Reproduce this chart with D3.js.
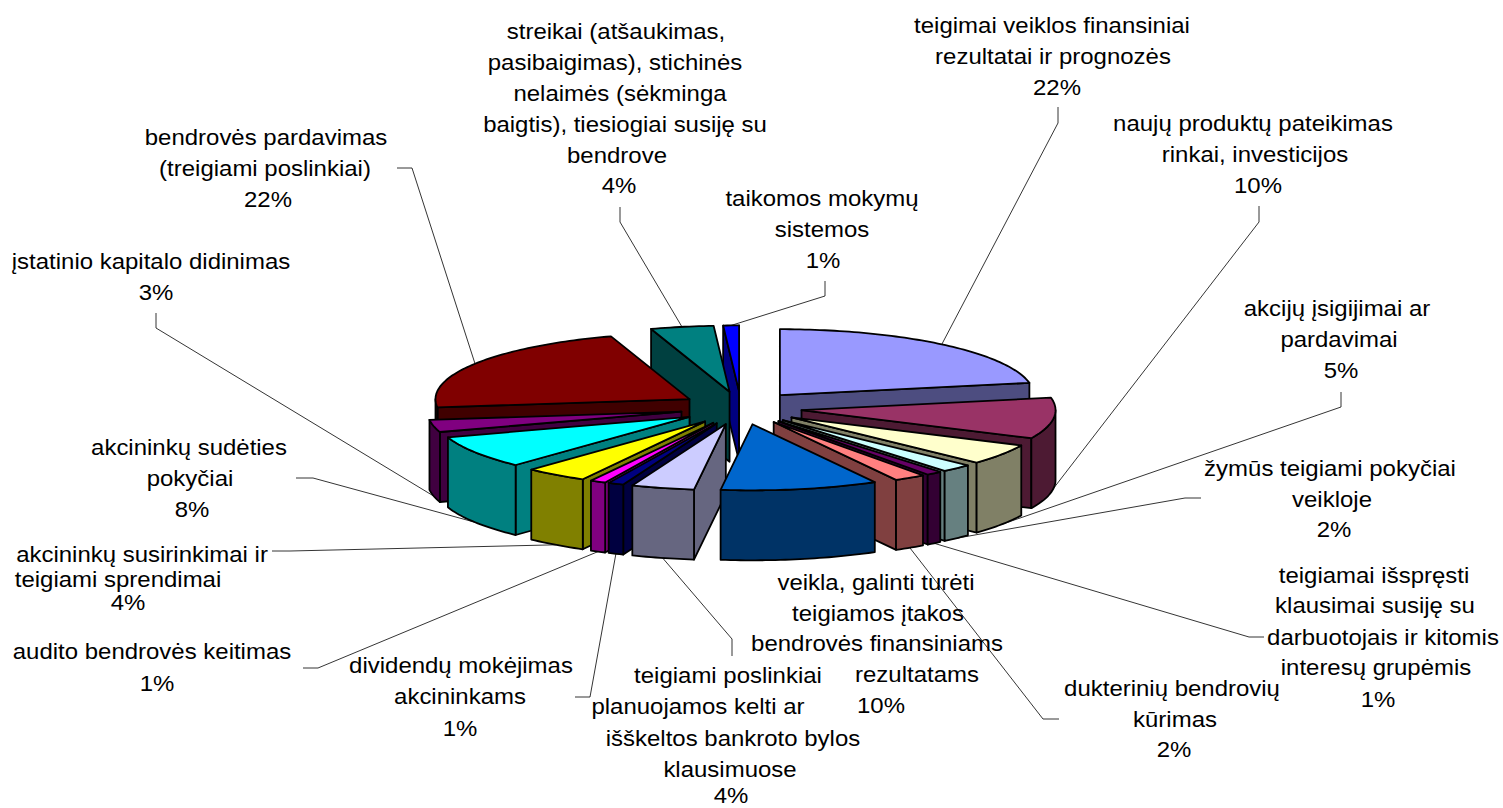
<!DOCTYPE html>
<html lang="lt">
<head>
<meta charset="utf-8">
<title>Teigiami įvykiai</title>
<script src="https://cdnjs.cloudflare.com/ajax/libs/d3/7.8.5/d3.min.js"></script>
<style>
  html, body { margin: 0; padding: 0; background: #fff; }
  svg { display: block; }
  text { font-family: "Liberation Sans", Arial, sans-serif; font-size: 22px; fill: #000; }
</style>
</head>
<body>
<svg id="chart" width="1503" height="808"></svg>
<script>
// Share of each event type, clockwise from twelve o'clock.
const categories = [
  ["teigimai veiklos finansiniai", "rezultatai ir prognozės"],
  ["naujų produktų pateikimas", "rinkai, investicijos"],
  ["akcijų įsigijimai ar", "pardavimai"],
  ["žymūs teigiami pokyčiai", "veikloje"],
  ["teigiamai išspręsti", "klausimai susiję su", "darbuotojais ir kitomis", "interesų grupėmis"],
  ["dukterinių bendrovių", "kūrimas"],
  ["veikla, galinti turėti", "teigiamos įtakos", "bendrovės finansiniams", "rezultatams"],
  ["teigiami poslinkiai", "planuojamos kelti ar", "išškeltos bankroto bylos", "klausimuose"],
  ["dividendų mokėjimas", "akcininkams"],
  ["audito bendrovės keitimas"],
  ["akcininkų susirinkimai ir", "teigiami sprendimai"],
  ["akcininkų sudėties", "pokyčiai"],
  ["įstatinio kapitalo didinimas"],
  ["bendrovės pardavimas", "(treigiami poslinkiai)"],
  ["streikai (atšaukimas,", "pasibaigimas), stichinės", "nelaimės (sėkminga", "baigtis), tiesiogiai susiję su", "bendrove"],
  ["taikomos mokymų", "sistemos"]
];
const shares = [22, 10, 5, 2, 1, 2, 10, 4, 1, 1, 4, 8, 3, 22, 4, 1];
const sliceColors = [
  "#9999FF", "#993366", "#FFFFCC", "#CCFFFF", "#660066", "#FF8080", "#0066CC", "#CCCCFF",
  "#000080", "#FF00FF", "#FFFF00", "#00FFFF", "#800080", "#800000", "#008080", "#0000FF"
];

// Centre x of every text line (the percentage comes last) and its baseline.
const labelCentres = [
  [1052, 1053, 1057], [1253, 1255, 1258], [1337, 1339, 1341], [1330, 1332, 1334],
  [1374, 1375, 1383, 1376, 1378], [1172, 1175, 1174], [876, 878, 877, 917, 881],
  [728, 698, 733, 730, 731], [461, 460, 460], [152, 157], [142, 118, 128],
  [189, 190, 192], [151, 156], [266, 265, 268], [616, 615, 620, 625, 617, 619],
  [822, 822, 823]
];
const labelBaselines = [
  [33, 64, 95], [131, 162, 193], [316, 347, 378], [476, 507, 537],
  [583, 613, 645, 675, 707], [696, 727, 757], [590, 621, 651, 682, 713],
  [683, 714, 746, 777, 803], [673, 704, 736], [659, 691], [562, 587, 610],
  [455, 486, 517], [269, 300], [145, 176, 207], [39, 70, 101, 132, 163, 193],
  [206, 237, 268]
];
const textStretch = 1.09;
// Leader elbows: label end, then bend; the last leg runs to the slice's rim.
const leaderElbows = [
  [[1058, 107], [1058, 123]], [[1259, 206], [1259, 222]], [[1341, 392], [1341, 407]],
  [[1201, 498], [1185, 498]], [[1264, 637], [1249, 637]], [[1059, 719], [1043, 719]],
  [], [[732, 656], [732, 639]], [[575, 697], [590, 697]], [[303, 668], [318, 668]],
  [[272, 551], [290, 551]], [[296, 478], [313, 478]], [[156, 313], [156, 328]],
  [[397, 168], [412, 168]], [[620, 207], [620, 222]], [[825, 281], [825, 296]]
];

// Projection of the tilted, exploded pie onto the page.
const centre = { x: 741, y: 408 };
const radiusX = 254, radiusY = 66;
const explodeX = 61, explodeY = 16.6;
const depth = 70;

const projectX = d3.scaleLinear().domain([-1, 1]).range([-radiusX, radiusX]);
const projectY = d3.scaleLinear().domain([-1, 1]).range([radiusY, -radiusY]);

// Walls and cut faces use each colour at half brightness.
const halfTone = color => {
  const c = d3.rgb(color);
  return d3.rgb(c.r / 2, c.g / 2, c.b / 2).formatHex();
};

const pie = d3.pie().sort(null).value(d => d).startAngle(0).endAngle(2 * Math.PI);
const slices = pie(shares).map((arc, i) => {
  const mid = (arc.startAngle + arc.endAngle) / 2;
  return {
    index: i,
    a0: arc.startAngle,
    a1: arc.endAngle,
    mid,
    apex: [centre.x + explodeX * Math.sin(mid), centre.y - explodeY * Math.cos(mid)],
    color: sliceColors[i],
    side: halfTone(sliceColors[i])
  };
});

function rimPoint(s, angle, drop = 0) {
  return [
    s.apex[0] + projectX(Math.sin(angle)),
    s.apex[1] + projectY(Math.cos(angle)) + drop
  ];
}
function rimRun(s, from, to, drop = 0) {
  const steps = Math.max(2, Math.ceil((to - from) / 0.02));
  return d3.range(steps + 1).map(k => rimPoint(s, from + (to - from) * k / steps, drop));
}

const line = d3.line().curve(d3.curveLinear);
const polygon = pts => line(pts) + "Z";
const svg = d3.select("#chart");

// Leader lines sit beneath the pie, so walls hide their far ends.
svg.append("g")
  .attr("fill", "none").attr("stroke", "#000").attr("stroke-width", 0.8)
  .selectAll("path")
  .data(slices.filter(s => leaderElbows[s.index].length))
  .join("path")
  .attr("d", s => {
    const front = Math.cos(s.mid) < 0;
    return line([...leaderElbows[s.index], rimPoint(s, s.mid, front ? depth : 0)]);
  });

// Painter's order: slices further back are drawn first.
const ordered = slices.slice().sort((p, q) => d3.descending(Math.cos(p.mid), Math.cos(q.mid)));

const groups = svg.append("g")
  .attr("stroke", "#000").attr("stroke-width", 1.8).attr("stroke-linejoin", "round")
  .selectAll("g").data(ordered).join("g");

groups.each(function (s) {
  const g = d3.select(this);
  const face = angle => {
    const rim = rimPoint(s, angle);
    return polygon([s.apex, rim, [rim[0], rim[1] + depth], [s.apex[0], s.apex[1] + depth]]);
  };
  // A cut face shows only when its outward normal points toward the viewer.
  if (Math.cos(s.a0 - Math.PI / 2) < 0) g.append("path").attr("d", face(s.a0)).attr("fill", s.side);
  if (Math.cos(s.a1 + Math.PI / 2) < 0) g.append("path").attr("d", face(s.a1)).attr("fill", s.side);

  // The outer wall exists only along the front half of the rim.
  const w0 = Math.max(s.a0, Math.PI / 2), w1 = Math.min(s.a1, 1.5 * Math.PI);
  if (w1 > w0) {
    g.append("path").attr("fill", s.side)
      .attr("d", polygon([...rimRun(s, w0, w1), ...rimRun(s, w0, w1, depth).reverse()]));
  }

  g.append("path").attr("fill", s.color)
    .attr("d", polygon([s.apex, ...rimRun(s, s.a0, s.a1)]));
});

// Category names with the percentage as the last line.
const labels = svg.append("g").selectAll("g").data(slices).join("g");
labels.each(function (s) {
  const lines = [...categories[s.index], `${shares[s.index]}%`];
  d3.select(this).selectAll("text").data(lines).join("text")
    .attr("text-anchor", "middle")
    .attr("transform", (d, j) =>
      `translate(${labelCentres[s.index][j]},${labelBaselines[s.index][j]}) scale(${textStretch},1)`)
    .text(d => d);
});
</script>
</body>
</html>
